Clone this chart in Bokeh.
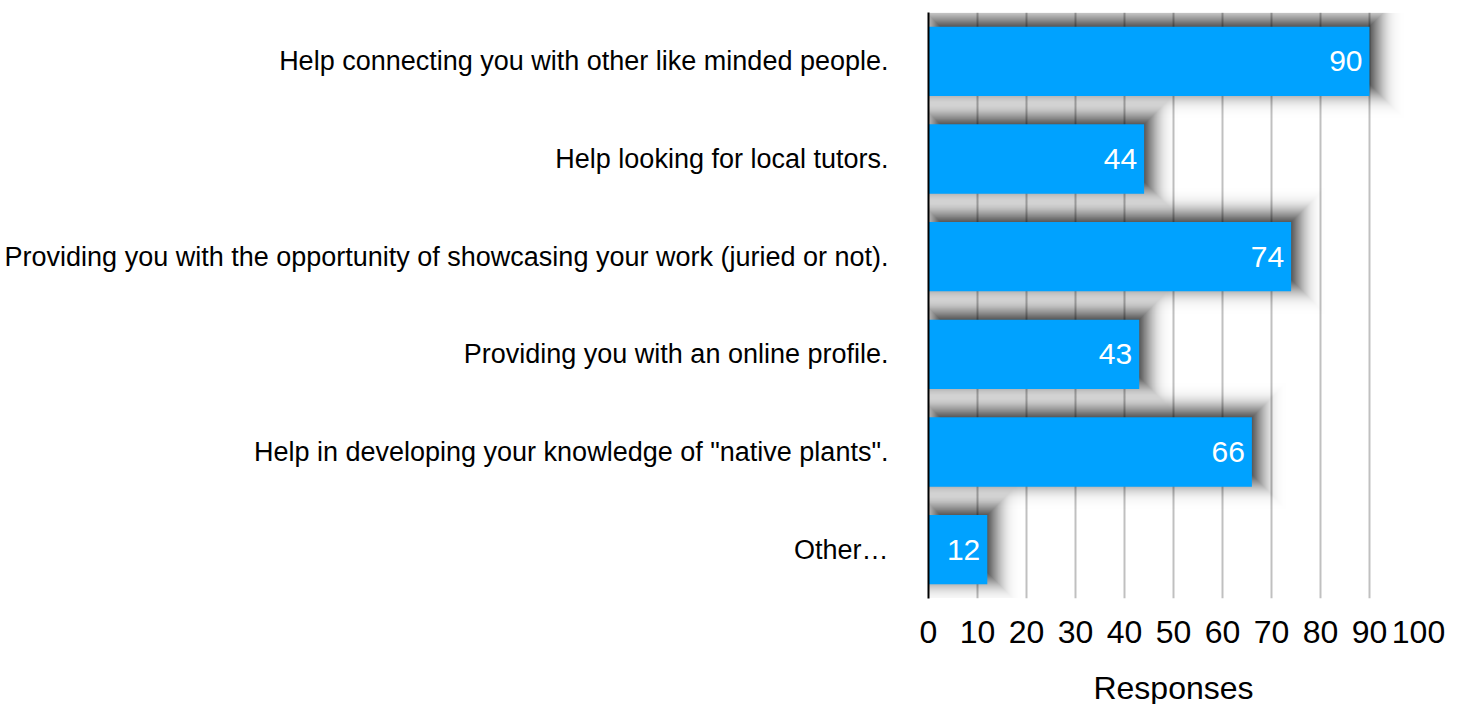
import math
from bokeh.plotting import figure
from bokeh.models import ColumnDataSource, FactorRange, Range1d, FixedTicker
from bokeh.transform import dodge
from bokeh.core.properties import value
from bokeh.embed import file_html
from bokeh.resources import INLINE

categories = [
    "Help connecting you with other like minded people.",
    "Help looking for local tutors.",
    "Providing you with the opportunity of showcasing your work (juried or not).",
    "Providing you with an online profile.",
    "Help in developing your knowledge of \"native plants\".",
    "Other\u2026",
]
responses = [90, 44, 74, 43, 66, 12]
x_ticks = [0, 10, 20, 30, 40, 50, 60, 70, 80, 90, 100]

FONT = "Liberation Sans"
FRAME_W = 490
FRAME_H = 586
XMAX = 100
px_x = XMAX / FRAME_W              # data units per pixel (x)
px_y = 1.0 / (FRAME_H / len(categories))  # category units per pixel (y)
BAR_H = 0.71

source = ColumnDataSource(dict(cat=categories, val=responses,
                               lab=[str(v) for v in responses]))

p = figure(
    y_range=FactorRange(factors=list(reversed(categories))),
    x_range=Range1d(0, XMAX),
    frame_width=FRAME_W, frame_height=FRAME_H,
    min_border_left=928, min_border_right=37, min_border_top=12, min_border_bottom=0,
    output_backend="svg", toolbar_location=None,
    outline_line_color=None,
)

# soft drop shadow: stack of translucent rectangles approximating a gaussian blur
SH_DX, SH_DY = 6.0, 6.0      # shadow offset in px (right, up)
SIGMA, SH_MAX, STEP = 11.0, 0.92, 1.0


def phi(z):
    return 0.5 * (1 + math.erf(z / math.sqrt(2)))


exps = []
e = 2.6 * SIGMA
while e > -2.6 * SIGMA:
    exps.append(e)
    e -= STEP
prev_T = 0.0
for e in exps:
    T = SH_MAX * (1 - phi(e / SIGMA))
    a = 1 - (1 - T) / (1 - prev_T)
    prev_T = T
    if a <= 0.002:
        continue
    h = BAR_H + 2 * e * px_y
    if h <= 0:
        continue
    shadow_src = ColumnDataSource(dict(
        cat=categories,
        right=[v + (SH_DX + e) * px_x for v in responses],
    ))
    p.hbar(y=dodge("cat", SH_DY * px_y, range=p.y_range),
           left=(SH_DX - e) * px_x, right="right",
           height=h, source=shadow_src,
           fill_color="black", fill_alpha=a, line_color=None)

p.hbar(y="cat", left=0, right="val", height=BAR_H, source=source,
       fill_color="#00A2FF", line_color=None)

p.text(x="val", y="cat", text="lab", source=source,
       text_color="white", text_font=value(FONT), text_font_size="30px",
       text_align="right", text_baseline="middle", x_offset=-7)

# grid
p.ygrid.grid_line_color = None
p.xgrid.grid_line_color = "#c0c0c0"
p.xgrid.grid_line_width = 2
p.xgrid.ticker = FixedTicker(ticks=x_ticks)

# x axis
p.xaxis.ticker = FixedTicker(ticks=x_ticks)
p.xaxis.axis_line_color = None
p.xaxis.major_tick_line_color = None
p.xaxis.minor_tick_line_color = None
p.xaxis.major_label_text_font = FONT
p.xaxis.major_label_text_font_size = "32px"
p.xaxis.major_label_text_color = "black"
p.xaxis.major_label_standoff = 16
p.xaxis.axis_label = "Responses"
p.xaxis.axis_label_text_font = FONT
p.xaxis.axis_label_text_font_size = "32px"
p.xaxis.axis_label_text_font_style = "normal"
p.xaxis.axis_label_text_color = "black"
p.xaxis.axis_label_standoff = 24

# y axis
p.yaxis.axis_line_color = "black"
p.yaxis.axis_line_width = 2
p.yaxis.major_tick_line_color = None
p.yaxis.minor_tick_line_color = None
p.yaxis.major_label_text_font = FONT
p.yaxis.major_label_text_font_size = "27px"
p.yaxis.major_label_text_color = "black"
p.yaxis.major_label_standoff = 34

open("out.html", "w").write(file_html(p, INLINE))
